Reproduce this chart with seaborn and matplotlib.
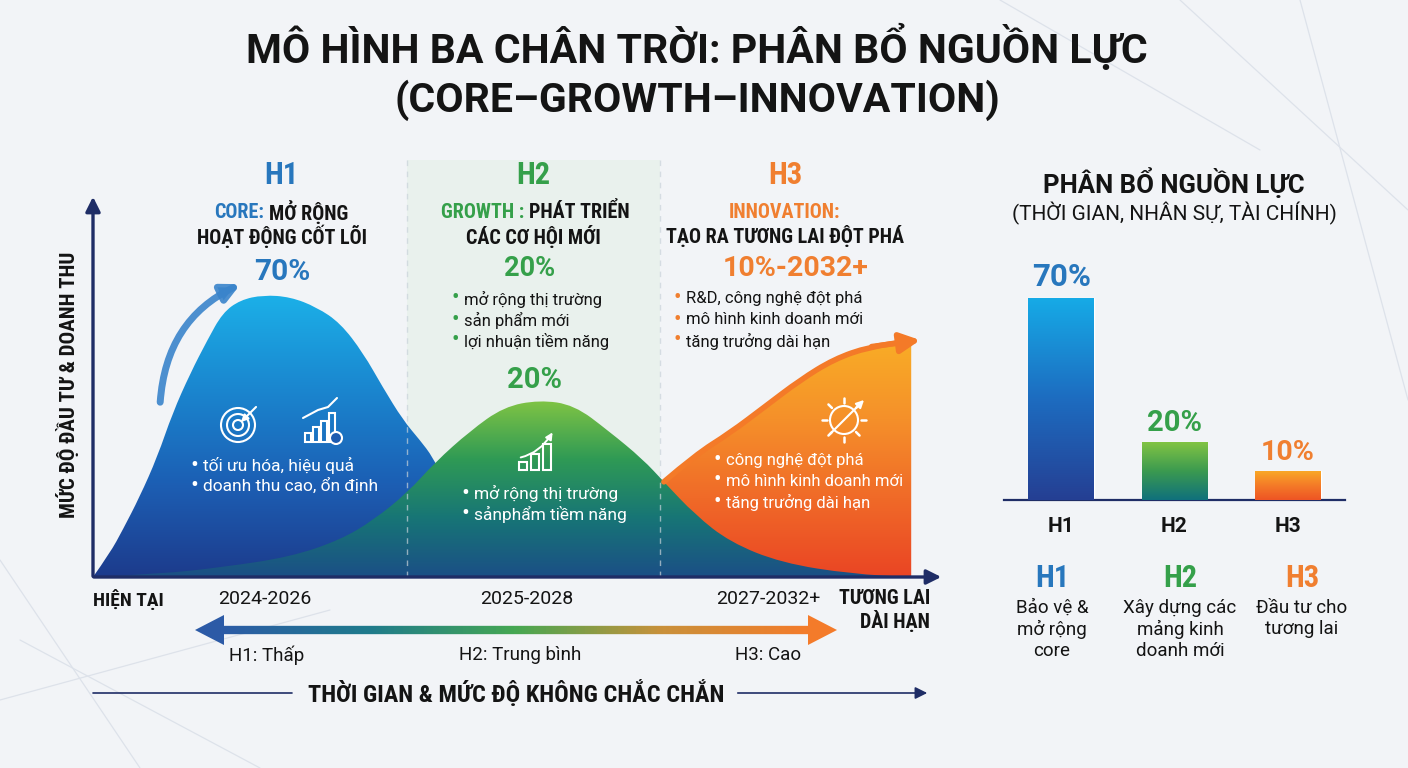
import numpy as np
import matplotlib
matplotlib.use("Agg")
import matplotlib.pyplot as plt
import seaborn as sns
from matplotlib.colors import LinearSegmentedColormap
from matplotlib.collections import LineCollection
from matplotlib.patches import Polygon, Circle, Rectangle, PathPatch
from matplotlib.path import Path

# ---- data ----
horizons = ["H1", "H2", "H3"]
alloc = [70, 20, 10]

# curves: x = time (0 = now, 100 = long-term future), y = investment / revenue level
h1_x = [0, 2.0, 3.5, 5.5, 7.6, 9.4, 11.5, 13.5, 15.3, 17.4, 20.1, 23.3, 26.4, 29.2,
        31.9, 34.2, 36.6, 38.6, 40.1, 42.1, 44.5, 47.5, 51.6]
h1_y = [0, 6.3, 12.4, 21.1, 31.7, 43.3, 53.8, 62.5, 69.7, 73.1, 74.4, 73.9, 71.2, 67.0,
        59.1, 50.1, 41.4, 36.1, 31.7, 23.0, 13.7, 5.8, 0]
h2_x = [0, 7.9, 15.3, 23.3, 29.2, 33.1, 37.1, 40.4, 44.5, 48.5, 52.7, 56.8, 60.9,
        64.9, 67.4, 71.1, 75.2, 81.3, 89.6, 96.6]
h2_y = [0, 0.8, 2.6, 5.3, 9.8, 15.0, 22.2, 30.3, 38.5, 44.9, 46.7, 45.4, 38.5,
        31.1, 25.1, 16.4, 9.2, 3.7, 0.8, 0]
h3_x = [67.4, 71.1, 75.2, 79.3, 83.5, 87.5, 91.6, 96.6]
h3_y = [25.1, 32.2, 38.0, 44.9, 52.0, 57.5, 60.7, 62.3]

period_labels = ["2024-2026", "2025-2028", "2027-2032+"]
risk_labels = ["H1: Thấp", "H2: Trung bình", "H3: Cao"]
h1_points = ["tối ưu hóa, hiệu quả", "doanh thu cao, ổn định"]
h2_points_top = ["mở rộng thị trường", "sản phẩm mới", "lợi nhuận tiềm năng"]
h2_points_in = ["mở rộng thị trường", "sảnphẩm tiềm năng"]
h3_points_top = ["R&D, công nghệ đột phá", "mô hình kinh doanh mới", "tăng trưởng dài hạn"]
h3_points_in = ["công nghệ đột phá", "mô hình kinh doanh mới", "tăng trưởng dài hạn"]
roles = ["Bảo vệ &\nmở rộng\ncore", "Xây dựng các\nmảng kinh\ndoanh mới", "Đầu tư cho\ntương lai"]

BLUE, GREEN, ORANGE = "#2877bd", "#35a04a", "#f07f30"
NAVY = "#1f2d66"
INK = "#141414"

sns.set_theme(style="white")
plt.rcParams["font.family"] = ["Roboto", "DejaVu Sans"]
COND = ["Roboto Condensed", "Roboto", "DejaVu Sans"]
REG = ["Roboto", "DejaVu Sans"]

W, H = 1408, 768
fig = plt.figure(figsize=(14.08, 7.68), dpi=100)
fig.patch.set_facecolor("#f2f4f7")


def full_axes(z):
    a = fig.add_axes([0, 0, 1, 1], zorder=z)
    a.set_xlim(0, W)
    a.set_ylim(H, 0)
    a.axis("off")
    a.patch.set_alpha(0)
    return a


bg = full_axes(0)
ax = fig.add_axes([93 / W, 1 - 577 / H, 847 / W, 379 / H], zorder=1)
axb = fig.add_axes([1004 / W, 1 - 500 / H, 341 / W, 231 / H], zorder=1)
deco = full_axes(2)

# faint background lines
for x0, y0, x1, y1 in [(0, 560, 140, 768), (20, 640, 260, 768), (0, 700, 330, 610),
                       (1180, 0, 1408, 210), (1000, 0, 1260, 150), (1300, 0, 1408, 400)]:
    bg.plot([x0, x1], [y0, y1], color="#dde2ea", lw=0.9)
bg.add_patch(Rectangle((407, 160), 253, 417, color="#e4f0e7", alpha=0.6, lw=0))

grad = np.linspace(1, 0, 256).reshape(-1, 1)


def smooth_path(xs, ys, close=True):
    # quadratic bezier through the midpoints of the read points
    p = np.column_stack([xs, ys]).astype(float)
    verts, codes = [p[0]], [Path.MOVETO]
    for i in range(1, len(p) - 1):
        verts += [p[i], (p[i] + p[i + 1]) / 2]
        codes += [Path.CURVE3, Path.CURVE3]
    verts.append(p[-1])
    codes.append(Path.LINETO)
    if close:
        verts += [(xs[-1], 0), (xs[0], 0), (xs[0], 0)]
        codes += [Path.LINETO, Path.LINETO, Path.CLOSEPOLY]
    return Path(np.array(verts), codes)


def grad_fill(axis, xs, ys, colors, z):
    patch = PathPatch(smooth_path(xs, ys), facecolor="none", edgecolor="none", zorder=z)
    axis.add_patch(patch)
    cmap = LinearSegmentedColormap.from_list("g", colors)
    im = axis.imshow(grad, cmap=cmap, vmin=0, vmax=1, origin="upper", aspect="auto",
                     extent=(min(xs), max(xs), 0, max(ys)), zorder=z)
    im.set_clip_path(patch)


grad_fill(ax, h1_x, h1_y, ["#1d3b8c", "#1c5fb4", "#1a86cf", "#1cb0e8"], 1)
grad_fill(ax, h3_x, h3_y, ["#ea4524", "#f06a28", "#f5902a", "#f9ad26"], 1)
grad_fill(ax, h2_x, h2_y, ["#1b4f86", "#177576", "#2f9a55", "#80c444"], 2)
ax.add_patch(PathPatch(smooth_path(h3_x, h3_y, close=False), fill=False,
                       edgecolor="#f47a28", lw=4, capstyle="round", zorder=3))
ax.annotate("", xy=(h3_x[-1] + 1.4, h3_y[-1] + 0.3), xytext=(h3_x[-2], h3_y[-2]),
            arrowprops=dict(arrowstyle="-|>", color="#f47a28", lw=4, mutation_scale=30),
            zorder=4, annotation_clip=False)
ax.set_xlim(0, 100)
ax.set_ylim(0, 100)
ax.axis("off")

# right panel bars
bar_grads = [["#253f93", "#1d6cc0", "#16abe7"],
             ["#0f707c", "#3b9a50", "#82c443"],
             ["#ee5424", "#f47a28", "#f9a826"]]
sns.barplot(x=horizons, y=alloc, hue=horizons, palette=[BLUE, GREEN, ORANGE],
            legend=False, width=0.58, saturation=1, ax=axb)
for patch, cols, val, col, fs in zip(axb.patches, bar_grads, alloc,
                                      [BLUE, GREEN, ORANGE], [22.5, 21, 20.5]):
    x0, w, h = patch.get_x(), patch.get_width(), patch.get_height()
    cmap = LinearSegmentedColormap.from_list("b", cols)
    im = axb.imshow(grad, cmap=cmap, vmin=0, vmax=1, origin="upper", aspect="auto",
                    extent=(x0, x0 + w, 0, h), zorder=3)
    im.set_clip_path(patch)
    axb.annotate(f"{val}%", (x0 + w / 2, h), xytext=(0, 4), textcoords="offset points",
                 ha="center", va="bottom", fontsize=fs, fontweight="bold", color=col,
                 family=REG)
axb.set_xlim(-0.504, 2.504)
axb.set_ylim(0, 80)
axb.set_yticks([])
axb.set_xlabel("")
axb.set_ylabel("")
sns.despine(ax=axb, left=True)
axb.spines["bottom"].set_color(NAVY)
axb.spines["bottom"].set_linewidth(1.6)
axb.tick_params(axis="x", length=0, pad=12, labelsize=15, labelcolor=INK)
for lbl in axb.get_xticklabels():
    lbl.set_fontweight("bold")
axb.patch.set_alpha(0)

# ---- overlay: axes arrows, texts, icons (pixel coordinates) ----
for xx in (407, 660):
    deco.plot([xx, xx], [160, 577], ls=(0, (4, 4)), color="#c9d3da", lw=1, alpha=0.7)

deco.annotate("", xy=(93, 194), xytext=(93, 579),
              arrowprops=dict(arrowstyle="-|>", color=NAVY, lw=2.4, mutation_scale=22))
deco.annotate("", xy=(944, 577), xytext=(91, 577),
              arrowprops=dict(arrowstyle="-|>", color=NAVY, lw=2.4, mutation_scale=22))
deco.annotate("", xy=(243, 283), xytext=(160, 405),
              arrowprops=dict(arrowstyle="-|>", color="#3a84cb", lw=5, mutation_scale=26,
                              connectionstyle="arc3,rad=-0.3", alpha=0.9))


def txt(x, y, s, size=14, weight="normal", color=INK, ha="center", family=COND, **kw):
    deco.text(x, y, s, fontsize=size, fontweight=weight, color=color, ha=ha, va="center",
              family=family, **kw)


txt(697, 47, "MÔ HÌNH BA CHÂN TRỜI: PHÂN BỔ NGUỒN LỰC", 29.5, "bold", family=REG)
txt(697, 100, "(CORE–GROWTH–INNOVATION)", 29.5, "bold", family=REG)

txt(68, 385, "MỨC ĐỘ ĐẦU TƯ & DOANH THU", 15, "bold", rotation=90)

# column headers
for x, name, col in [(281, "H1", BLUE), (533, "H2", GREEN), (785, "H3", ORANGE)]:
    txt(x, 175, name, 22, "bold", col)
txt(264, 212, "CORE:", 14.5, "bold", BLUE, ha="right")
txt(269, 212, "MỞ RỘNG", 14.5, "bold", ha="left")
txt(282, 236, "HOẠT ĐỘNG CỐT LÕI", 14.5, "bold")
txt(524, 212, "GROWTH :", 14.5, "bold", GREEN, ha="right")
txt(529, 212, "PHÁT TRIỂN", 14.5, "bold", ha="left")
txt(533, 236, "CÁC CƠ HỘI MỚI", 14.5, "bold")
txt(785, 212, "INNOVATION:", 14.5, "bold", ORANGE)
txt(785, 236, "TẠO RA TƯƠNG LAI ĐỘT PHÁ", 14.5, "bold")
txt(282, 272, "70%", 21.5, "bold", BLUE, family=REG)
txt(530, 269, "20%", 19.5, "bold", GREEN, family=REG)
txt(796, 269, "10%-2032+", 20.5, "bold", ORANGE, family=REG)
txt(534, 380, "20%", 21, "bold", GREEN, family=REG)


def bullets(x, y0, items, bcol, tcol, size=12, step=21):
    for i, s in enumerate(items):
        y = y0 + i * step
        txt(x, y, "•", size * 1.35, color=bcol, family=REG)
        txt(x + 9, y, s, size, color=tcol, ha="left", family=REG)


bullets(455, 299, h2_points_top, GREEN, INK)
bullets(677, 299, h3_points_top, ORANGE, INK)
bullets(194, 465, h1_points, "white", "white", 12.5)
bullets(465, 493, h2_points_in, "white", "white", 12.5)
bullets(717, 460, h3_points_in, "white", "white", 12)

# x axis labels
txt(128, 599, "HIỆN TẠI", 14, "bold")
for x, s in zip([265, 527, 768], period_labels):
    txt(x, 599, s, 14, family=REG)
txt(930, 599, "TƯƠNG LAI", 14.5, "bold", ha="right")
txt(930, 621, "DÀI HẠN", 14.5, "bold", ha="right")

# uncertainty arrow with gradient
ux = np.linspace(218, 812, 200)
segs = [[(ux[i], 630), (ux[i + 1], 630)] for i in range(len(ux) - 1)]
ucmap = LinearSegmentedColormap.from_list("u", ["#2c5aa6", "#1f7a8c", "#45a752", "#c9903a", "#f47b2a"])
lc = LineCollection(segs, colors=ucmap(np.linspace(0, 1, len(segs))), linewidths=6)
deco.add_collection(lc)
deco.add_patch(Polygon([(195, 630), (224, 615), (224, 645)], closed=True, color="#2c5aa6", lw=0))
deco.add_patch(Polygon([(837, 630), (808, 615), (808, 645)], closed=True, color="#f47b2a", lw=0))
for x, s in zip([267, 520, 768], risk_labels):
    txt(x, 655, s, 13.5, family=REG)

deco.plot([93, 292], [693, 693], color=NAVY, lw=1.2)
deco.annotate("", xy=(930, 693), xytext=(735, 693),
              arrowprops=dict(arrowstyle="-|>", color=NAVY, lw=1.2, mutation_scale=18))
txt(516, 693, "THỜI GIAN & MỨC ĐỘ KHÔNG CHẮC CHẮN", 17.5, "bold")

# right panel texts
txt(1174, 183, "PHÂN BỔ NGUỒN LỰC", 18.5, "bold", family=REG)
txt(1174, 213, "(THỜI GIAN, NHÂN SỰ, TÀI CHÍNH)", 15, family=REG)
for x, name, col, role in zip([1052, 1180, 1302], horizons, [BLUE, GREEN, ORANGE], roles):
    txt(x, 578, name, 22, "bold", col)
    deco.text(x, 599, role, fontsize=13.5, color=INK, ha="center", va="top",
              linespacing=1.2, family=REG)

# simple white line icons
ic = dict(fill=False, ec="white", lw=1.5)
for r in (17, 11, 5):
    deco.add_patch(Circle((238, 425), r, **ic))
deco.annotate("", xy=(239, 424), xytext=(258, 405),
              arrowprops=dict(arrowstyle="-|>", color="white", lw=1.5, mutation_scale=10))
for i, hh in enumerate([9, 15, 21, 29]):
    deco.add_patch(Rectangle((305 + i * 8, 442 - hh), 6, hh, **ic))
deco.plot([303, 318, 328, 337], [418, 410, 407, 398], color="white", lw=1.5)
deco.add_patch(Circle((336, 438), 6, fc="#1d5cb0", ec="white", lw=1.5))
for i, hh in enumerate([8, 16, 26]):
    deco.add_patch(Rectangle((519 + i * 12, 470 - hh), 8, hh, **ic))
deco.annotate("", xy=(554, 430), xytext=(518, 458),
              arrowprops=dict(arrowstyle="-|>", color="white", lw=1.4, mutation_scale=10,
                              connectionstyle="angle3,angleA=10,angleB=60"))
deco.add_patch(Circle((844, 420), 14, **ic))
for ang in np.arange(0, 360, 45):
    a = np.deg2rad(ang)
    deco.plot([844 + 17 * np.cos(a), 844 + 22 * np.cos(a)],
              [420 + 17 * np.sin(a), 420 + 22 * np.sin(a)], color="white", lw=1.8)
deco.annotate("", xy=(866, 398), xytext=(828, 436),
              arrowprops=dict(arrowstyle="-|>", color="white", lw=1.5, mutation_scale=11))

fig.savefig("out.png", dpi=100, facecolor=fig.get_facecolor())
